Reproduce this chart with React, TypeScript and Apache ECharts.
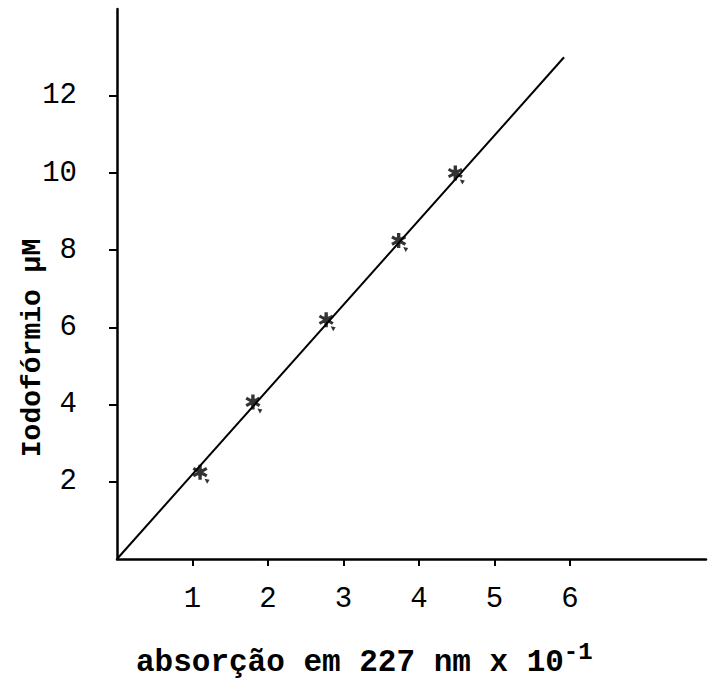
import React, { useEffect, useRef } from "react";
import * as echarts from "echarts";

const absorbance = [1.1, 1.8, 2.77, 3.73, 4.48];
const iodoformio = [2.25, 4.07, 6.2, 8.25, 10.0];
const fitLine = [[0, 0], [5.92, 13.0]];
const xTicks = [1, 2, 3, 4, 5, 6];
const yTicks = [2, 4, 6, 8, 10, 12];

const STAR =
  "path://M-1.3,-6L1.3,-6L1.3,6L-1.3,6Z M4.6,4.04L-5.8,-1.96L-4.6,-4.04L5.8,1.96Z M-5.8,1.96L4.6,-4.04L5.8,-1.96L-4.6,4.04Z M-2.6,-2.6L2.6,-2.6L2.6,2.6L-2.6,2.6Z";
const NICK = "path://M0,0L4,1L2,5Z";

export default function App() {
  const ref = useRef<HTMLDivElement>(null);
  useEffect(() => {
    if (!ref.current) return;
    const chart = echarts.init(ref.current, undefined, { renderer: "svg" });
    const mono = "'Liberation Mono', 'DejaVu Sans Mono', monospace";
    chart.setOption({
      animation: false,
      backgroundColor: "#ffffff",
      grid: { left: 117, right: 4, top: 9, bottom: 126 },
      xAxis: {
        type: "value",
        min: 0,
        max: 7.8,
        splitLine: { show: false },
        axisLine: { lineStyle: { color: "#000", width: 2.5 } },
        axisTick: { customValues: xTicks, length: 7, lineStyle: { color: "#000", width: 2 } },
        axisLabel: { customValues: xTicks, margin: 26, color: "#000", fontFamily: mono, fontSize: 29 },
      },
      yAxis: {
        type: "value",
        min: 0,
        max: 14.25,
        splitLine: { show: false },
        axisLine: { lineStyle: { color: "#000", width: 2.5 } },
        axisTick: { customValues: yTicks, length: 8, lineStyle: { color: "#000", width: 2 } },
        axisLabel: { customValues: yTicks, margin: 40, color: "#000", fontFamily: mono, fontSize: 29 },
      },
      series: [
        {
          type: "line",
          data: fitLine,
          symbol: "none",
          lineStyle: { color: "#000", width: 2 },
        },
        {
          type: "scatter",
          data: absorbance.map((x, i) => [x, iodoformio[i]]),
          symbol: STAR,
          symbolSize: 15,
          itemStyle: { color: "#000" },
        },
        {
          type: "scatter",
          data: absorbance.map((x, i) => [x, iodoformio[i]]),
          symbol: NICK,
          symbolSize: 5,
          symbolOffset: [7, 9],
          itemStyle: { color: "#000" },
        },
      ],
      graphic: [
        {
          type: "text",
          left: 136,
          top: 640,
          style: {
            text: "{a|absorção em 227 nm x 10}{s|-1}",
            rich: {
              a: { fontFamily: mono, fontWeight: "bold", fontSize: 31, fill: "#000", verticalAlign: "bottom", lineHeight: 38 },
              s: { fontFamily: mono, fontWeight: "bold", fontSize: 24, fill: "#000", verticalAlign: "top", lineHeight: 38, padding: [0, 0, 16, 0] },
            },
          },
        },
        {
          type: "text",
          x: 32,
          y: 348,
          rotation: Math.PI / 2,
          style: {
            text: "Iodofórmio µM",
            fontFamily: mono,
            fontWeight: "bold",
            fontSize: 28,
            fill: "#000",
            align: "center",
            verticalAlign: "middle",
          },
        },
      ],
    });
    return () => chart.dispose();
  }, []);
  return (
    <div
      ref={ref}
      style={{ position: "fixed", left: 0, top: 0, width: 710, height: 685, background: "#fff" }}
    />
  );
}
